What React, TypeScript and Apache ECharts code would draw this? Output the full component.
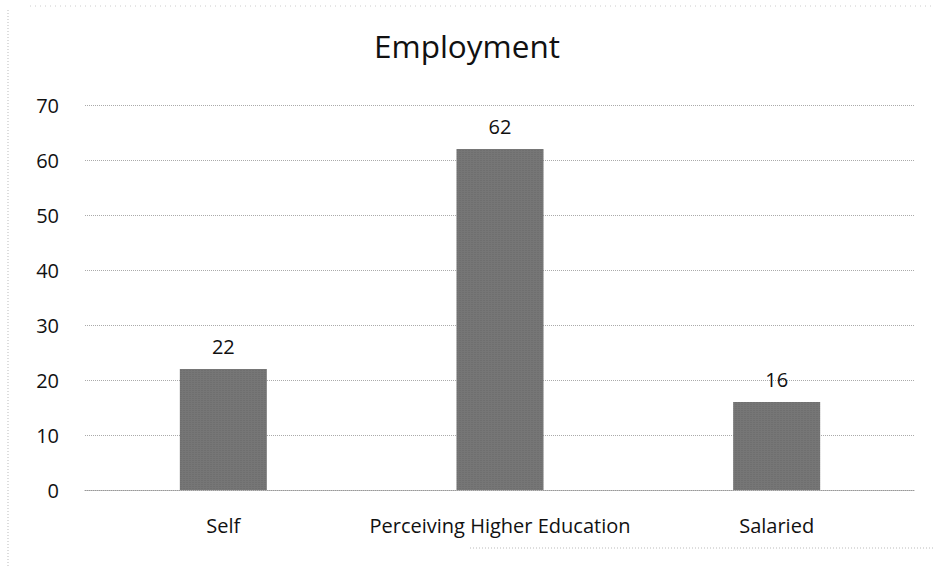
import React, { useEffect, useRef } from "react";
import * as echarts from "echarts";

const categories = ["Self", "Perceiving Higher Education", "Salaried"];
const values = [22, 62, 16];
const yTicks = [0, 10, 20, 30, 40, 50, 60, 70];

export default function App() {
  const ref = useRef<HTMLDivElement>(null);
  useEffect(() => {
    document.body.style.margin = "0";
    const chart = echarts.init(ref.current!, null, { renderer: "svg" });
    const font = "'Open Sans', 'Noto Sans', sans-serif";
    chart.setOption({
      animation: false,
      backgroundColor: "#ffffff",
      title: {
        text: "Employment",
        left: "center",
        top: 24,
        textStyle: { fontFamily: font, fontSize: 31.5, fontWeight: "normal", color: "#111" },
      },
      grid: { left: 85, right: 19, top: 105, bottom: 76 },
      xAxis: {
        type: "category",
        data: categories,
        axisLine: { show: true, lineStyle: { color: "#999", type: "dotted", width: 1 } },
        axisTick: { show: false },
        axisLabel: { fontFamily: font, fontSize: 20, color: "#111", margin: 25, interval: 0 },
      },
      yAxis: {
        type: "value",
        min: yTicks[0],
        max: yTicks[yTicks.length - 1],
        interval: 10,
        axisLine: { show: false },
        axisTick: { show: false },
        axisLabel: { fontFamily: font, fontSize: 20, color: "#111", margin: 26 },
        splitLine: { lineStyle: { color: "#aaa", type: "dotted", width: 1 } },
      },
      series: [
        {
          type: "bar",
          data: values,
          barWidth: 87,
          itemStyle: {
            color: "#767676",
            decal: {
              symbol: "rect",
              symbolSize: 0.5,
              color: "rgba(40,40,40,0.35)",
              dashArrayX: [2, 1],
              dashArrayY: [1, 1],
              rotation: 0,
            },
          },
          label: {
            show: true,
            position: "top",
            distance: 13,
            fontFamily: font,
            fontSize: 20,
            color: "#111",
          },
        },
      ],
      aria: { enabled: false, decal: { show: true } },
      graphic: [
        { type: "line", shape: { x1: 8, y1: 10, x2: 8, y2: 566 }, style: { stroke: "#bbb", lineDash: [1, 2], lineWidth: 1 } },
        { type: "line", shape: { x1: 30, y1: 6, x2: 934, y2: 6 }, style: { stroke: "#ccc", lineDash: [1, 4], lineWidth: 1 } },
        { type: "line", shape: { x1: 470, y1: 548, x2: 934, y2: 548 }, style: { stroke: "#bbb", lineDash: [1, 2], lineWidth: 1 } },
      ],
    });
    return () => chart.dispose();
  }, []);
  return <div ref={ref} style={{ width: 934, height: 566 }} />;
}
